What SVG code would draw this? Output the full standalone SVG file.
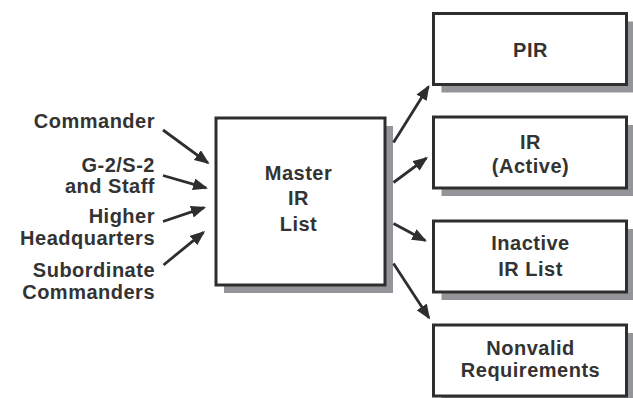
<svg xmlns="http://www.w3.org/2000/svg" width="633" height="398" viewBox="0 0 633 398">
  <style>
    .box { fill: #ffffff; stroke: #2e2e2e; stroke-width: 3; }
    .shadow { fill: #939598; stroke: none; }
    .lbl { font-family: "Liberation Sans", Arial, Helvetica, sans-serif; font-weight: bold; font-size: 20px; letter-spacing: 0.5px; fill: #333333; }
    .end { text-anchor: end; }
    .mid { text-anchor: middle; }
    .conn { stroke: #2e2e2e; stroke-width: 2.8; fill: none; marker-end: url(#arrow); }
  </style>
  <defs>
    <marker id="arrow" markerUnits="userSpaceOnUse" markerWidth="18" markerHeight="14" refX="13" refY="6" orient="auto">
      <path d="M0,0 L15,6 L0,12 z" fill="#2e2e2e"/>
    </marker>
  </defs>
  <rect width="633" height="398" fill="#ffffff"/>

  <g id="sources">
    <text class="lbl end" x="155" y="128">Commander</text>
    <text class="lbl end" x="155" y="172">G-2/S-2</text>
    <text class="lbl end" x="155" y="193">and Staff</text>
    <text class="lbl end" x="155" y="223">Higher</text>
    <text class="lbl end" x="155" y="245">Headquarters</text>
    <text class="lbl end" x="155" y="277">Subordinate</text>
    <text class="lbl end" x="155" y="298.5">Commanders</text>
  </g>

  <g id="master">
    <rect class="shadow" x="224" y="126" width="169" height="167"/>
    <rect class="box" x="216" y="118" width="169" height="167"/>
    <text class="lbl mid" x="298.5" y="180">Master</text>
    <text class="lbl mid" x="298.5" y="205">IR</text>
    <text class="lbl mid" x="298.5" y="230.5">List</text>
  </g>

  <g id="pir">
    <rect class="shadow" x="441.5" y="21.5" width="193" height="71"/>
    <rect class="box" x="433.5" y="13.5" width="193" height="71"/>
    <text class="lbl mid" x="530.5" y="57">PIR</text>
  </g>

  <g id="ir-active">
    <rect class="shadow" x="441.5" y="125" width="193" height="71"/>
    <rect class="box" x="433.5" y="117" width="193" height="71"/>
    <text class="lbl mid" x="530.5" y="148.5">IR</text>
    <text class="lbl mid" x="530.5" y="173">(Active)</text>
  </g>

  <g id="inactive">
    <rect class="shadow" x="441.5" y="229" width="193" height="71"/>
    <rect class="box" x="433.5" y="221" width="193" height="71"/>
    <text class="lbl mid" x="530.5" y="250">Inactive</text>
    <text class="lbl mid" x="530.5" y="276">IR List</text>
  </g>

  <g id="nonvalid">
    <rect class="shadow" x="441.5" y="333" width="193" height="71"/>
    <rect class="box" x="433.5" y="325" width="193" height="71"/>
    <text class="lbl mid" x="530.5" y="355">Nonvalid</text>
    <text class="lbl mid" x="530.5" y="377">Requirements</text>
  </g>

  <g id="connectors">
    <line class="conn" x1="163" y1="130" x2="207.9" y2="162.8"/>
    <line class="conn" x1="163" y1="175.5" x2="206.1" y2="187.9"/>
    <line class="conn" x1="163" y1="221.5" x2="204.1" y2="207.6"/>
    <line class="conn" x1="163.5" y1="265" x2="203.5" y2="232.3"/>
    <line class="conn" x1="393.5" y1="142.5" x2="428.4" y2="86.7"/>
    <line class="conn" x1="393.5" y1="182.5" x2="426.4" y2="158.2"/>
    <line class="conn" x1="393.5" y1="223.5" x2="425.2" y2="240.6"/>
    <line class="conn" x1="393.5" y1="263.5" x2="428.9" y2="317.8"/>
  </g>
</svg>
